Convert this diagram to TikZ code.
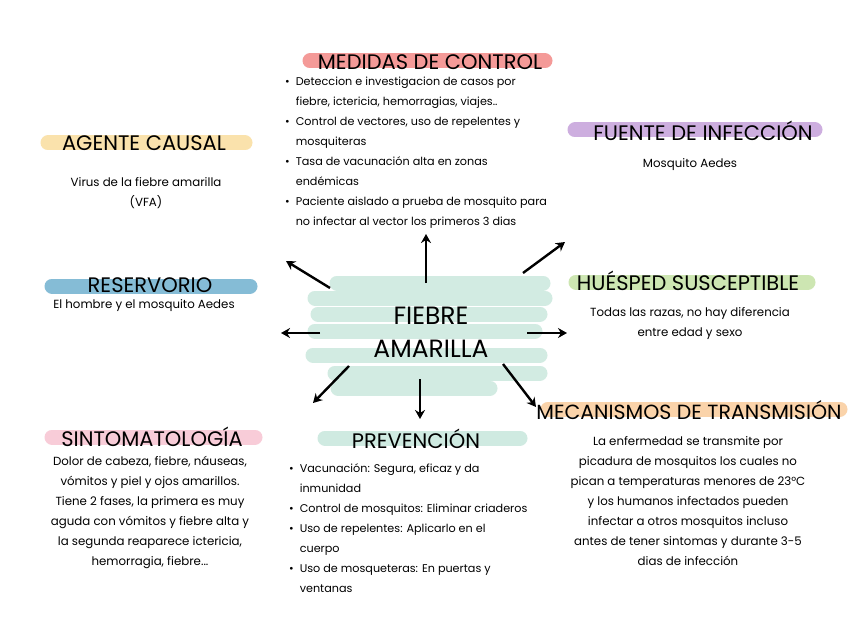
\documentclass[tikz,border=0pt]{standalone}
\usepackage{fontspec}
\setmainfont{Poppins}
\usetikzlibrary{arrows.meta}
\definecolor{cred}{HTML}{F49A98}
\definecolor{cyel}{HTML}{FAE2AC}
\definecolor{cpur}{HTML}{CDAEDF}
\definecolor{cblu}{HTML}{85BCD6}
\definecolor{cgrn}{HTML}{CDE6B2}
\definecolor{cpnk}{HTML}{F8CCD8}
\definecolor{cmnt}{HTML}{CFEAE1}
\definecolor{corg}{HTML}{FAD3AA}
\definecolor{cscr}{HTML}{BFE3D6}
\begin{document}
\begin{tikzpicture}[x=1pt,y=-1pt,
  hl/.style={line width=15pt,line cap=round},
  scr/.style={line width=15pt,line cap=round,draw=cscr,opacity=0.7},
  head/.style={font=\fontsize{21}{24}\selectfont,inner sep=0pt},
  body/.style={font=\fontsize{11.8}{20}\selectfont,inner sep=0pt,align=center},
  blist/.style={font=\fontsize{11.2}{20}\selectfont,inner sep=0pt,anchor=west},
  arr/.style={-{Stealth[length=9pt,width=10pt]},line width=2.4pt}]
\useasboundingbox (0,0) rectangle (848,636);
\fill[white] (0,0) rectangle (848,636);

% highlights
\draw[hl,cred] (310,61) -- (545,61);
\draw[hl,cyel] (48,143) -- (245,143);
\draw[hl,cpur] (575,130) -- (815,130);
\draw[hl,cblu] (52,286) -- (250,286);
\draw[hl,cgrn] (576,282) -- (808,282);
\draw[hl,cpnk] (52,437) -- (255,437);
\draw[hl,cmnt] (325,438) -- (520,438);
\draw[hl,corg] (548,409) -- (840,409);

% scribble
\draw[scr] (337,283) -- (543,283);
\draw[scr] (315,298) -- (545,298);
\draw[scr] (318,314) -- (540,314);
\draw[scr] (315,331) -- (535,331);
\draw[scr] (313,355) -- (540,355);
\draw[scr] (335,373) -- (540,373);
\draw[scr] (338,388) -- (490,388);

% headers
\node[head] (h1) at (430,62) {MEDIDAS DE CONTROL};
\node[head] (h2) at (144,143) {AGENTE CAUSAL};
\node[head] (h3) at (703,131) {FUENTE DE INFECCIÓN};
\node[head] (h4) at (150,285) {RESERVORIO};
\node[head] (h5) at (688,281) {HUÉSPED SUSCEPTIBLE};
\node[head] (h6) at (152,437) {SINTOMATOLOGÍA};
\node[head] (h7) at (416,439) {PREVENCIÓN};
\node[head,font=\fontsize{20.5}{24}\selectfont] (h8) at (689,410) {MECANISMOS DE TRANSMISIÓN};

% center
\node[font=\fontsize{25}{33}\selectfont,align=center,inner sep=0pt] (fa) at (431,332) {FIEBRE\\AMARILLA};

% bodies
\node[blist] (b1) at (285,151.5) {\begin{tabular}{@{}l@{\hspace{6pt}}l@{}}
•& Deteccion e investigacion de casos por\\
 & fiebre, ictericia, hemorragias, viajes..\\
•& Control de vectores, uso de repelentes y\\
 & mosquiteras\\
•& Tasa de vacunación alta en zonas\\
 & endémicas\\
•& Paciente aislado a prueba de mosquito para\\
 & no infectar al vector los primeros 3 dias\end{tabular}};
\node[body] (b2) at (146,193.5) {Virus de la fiebre amarilla\\(VFA)};
\node[body] (b3) at (690,165) {Mosquito Aedes};
\node[body] (b4) at (144,306) {El hombre y el mosquito Aedes};
\node[body] (b5) at (690,323.5) {Todas las razas, no hay diferencia\\entre edad y sexo};
\node[body] (b6) at (150,512) {Dolor de cabeza, fiebre, náuseas,\\vómitos y piel y ojos amarillos.\\Tiene 2 fases, la primera es muy\\aguda con vómitos y fiebre alta y\\la segunda reaparece ictericia,\\hemorragia, fiebre...};
\node[blist] (b7) at (289,528) {\begin{tabular}{@{}l@{\hspace{6pt}}l@{}}
•& Vacunación: Segura, eficaz y da\\
 & inmunidad\\
•& Control de mosquitos: Eliminar criaderos\\
•& Uso de repelentes: Aplicarlo en el\\
 & cuerpo\\
•& Uso de mosqueteras: En puertas y\\
 & ventanas\end{tabular}};
\node[body] (b8) at (688,501.5) {La enfermedad se transmite por\\picadura de mosquitos los cuales no\\pican a temperaturas menores de 23°C\\y los humanos infectados pueden\\infectar a otros mosquitos incluso\\antes de tener sintomas y durante 3-5\\dias de infección};

% arrows
\coordinate (a1s) at (426,283); \coordinate (a1e) at (426,234);
\coordinate (a2s) at (330,288); \coordinate (a2e) at (286,261);
\coordinate (a3s) at (523,273); \coordinate (a3e) at (565,242);
\coordinate (a4s) at (320,333); \coordinate (a4e) at (281,333);
\coordinate (a5s) at (527,333); \coordinate (a5e) at (567,333);
\coordinate (a6s) at (349,366); \coordinate (a6e) at (313,403);
\coordinate (a7s) at (420,379); \coordinate (a7e) at (420,419);
\coordinate (a8s) at (503,364); \coordinate (a8e) at (536,407);
\foreach \i in {1,...,8} {\draw[arr] (a\i s) -- (a\i e);}
\end{tikzpicture}
\end{document}
